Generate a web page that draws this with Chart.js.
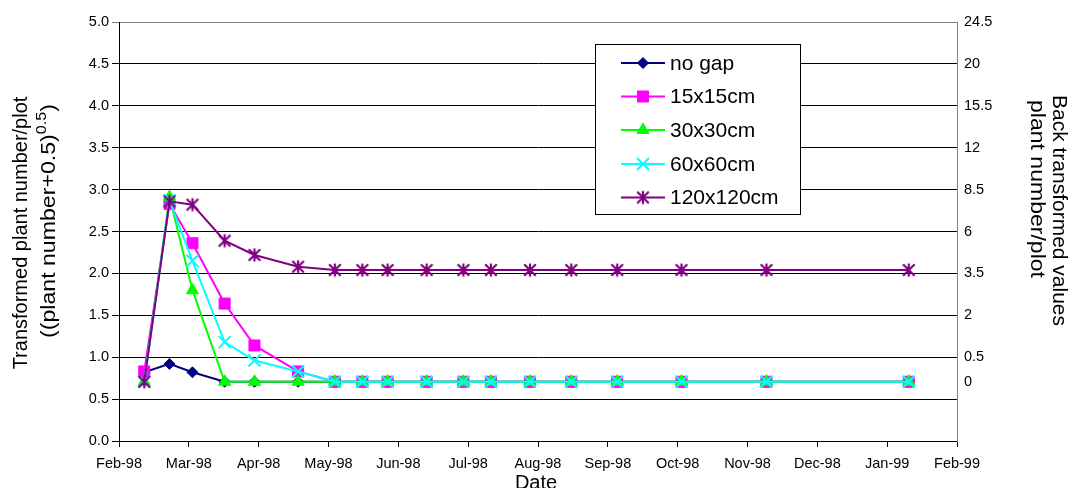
<!DOCTYPE html>
<html><head><meta charset="utf-8">
<script src="https://cdn.jsdelivr.net/npm/chart.js@4/dist/chart.umd.min.js"></script>
<style>html,body{margin:0;padding:0;background:#fff;overflow:hidden}</style>
</head><body>
<canvas id="c" width="1072" height="488"></canvas>
<script>
// ---- data ----
const dates = ['1998-02-12','1998-02-23','1998-03-05','1998-03-19','1998-04-01','1998-04-20','1998-05-06','1998-05-18','1998-05-29','1998-06-15','1998-07-01','1998-07-13','1998-07-30','1998-08-17','1998-09-06','1998-10-04','1998-11-10','1999-01-11'];
const seriesNames = ['no gap','15x15cm','30x30cm','60x60cm','120x120cm'];
const noGap  = [0.82,0.92,0.82,0.707,0.707,0.707,0.707,0.707,0.707,0.707,0.707,0.707,0.707,0.707,0.707,0.707,0.707,0.707];
const gap15  = [0.83,2.83,2.36,1.64,1.14,0.83,0.707,0.707,0.707,0.707,0.707,0.707,0.707,0.707,0.707,0.707,0.707,0.707];
const gap30  = [0.707,2.91,1.80,0.707,0.707,0.707,0.707,0.707,0.707,0.707,0.707,0.707,0.707,0.707,0.707,0.707,0.707,0.707];
const gap60  = [0.707,2.87,2.15,1.18,0.96,0.83,0.707,0.707,0.707,0.707,0.707,0.707,0.707,0.707,0.707,0.707,0.707,0.707];
const gap120 = [0.707,2.86,2.82,2.39,2.22,2.08,2.04,2.04,2.04,2.04,2.04,2.04,2.04,2.04,2.04,2.04,2.04,2.04];
const monthLabels = ['Feb-98','Mar-98','Apr-98','May-98','Jun-98','Jul-98','Aug-98','Sep-98','Oct-98','Nov-98','Dec-98','Jan-99','Feb-99'];
const leftTicks = [0,0.5,1,1.5,2,2.5,3,3.5,4,4.5,5];
const rightTickLabels = ['0','0.5','2','3.5','6','8.5','12','15.5','20','24.5'];
const rightTickPos = [0.707,1,1.5,2,2.5,3,3.5,4,4.5,5];

// ---- helpers ----
const startDay = Date.UTC(1998,1,1);
const dayOf = s => { const p = s.split('-').map(Number); return (Date.UTC(p[0],p[1]-1,p[2]) - startDay) / 864e5; };
const axisDays = (Date.UTC(1999,1,1) - startDay) / 864e5;
const xDays = dates.map(dayOf);
const pts = arr => arr.map((v,i) => ({x: xDays[i], y: v}));

function makeStar(color){
  const c = document.createElement('canvas'); c.width = 16; c.height = 16;
  const g = c.getContext('2d'); g.strokeStyle = color; g.lineWidth = 2.2; g.lineCap = 'butt';
  g.beginPath();
  g.moveTo(8,1.5); g.lineTo(8,14.5);
  g.moveTo(2.2,2.2); g.lineTo(13.8,13.8);
  g.moveTo(13.8,2.2); g.lineTo(2.2,13.8);
  g.stroke();
  return c;
}

const FONT = '"Liberation Sans", Arial, Helvetica, sans-serif';
Chart.defaults.font.family = FONT;
Chart.defaults.color = '#000';

const styles = [
  {color:'#000080', pointStyle:'rectRot', radius:5.5, pbw:1, order:4},
  {color:'#FF00FF', pointStyle:'rect', radius:7.8, pbw:1, order:3},
  {color:'#00FF00', pointStyle:'triangle', radius:7, pbw:1, order:2},
  {color:'#00FFFF', pointStyle:'crossRot', radius:8.5, pbw:2, order:1},
  {color:'#800080', pointStyle:makeStar('#800080'), radius:8, pbw:2, order:0}
];
const seriesData = [noGap, gap15, gap30, gap60, gap120];

const datasets = seriesData.map((arr,i) => ({
  label: seriesNames[i],
  data: pts(arr),
  borderColor: styles[i].color,
  backgroundColor: styles[i].color,
  pointBackgroundColor: styles[i].color,
  pointBorderColor: styles[i].color,
  pointStyle: styles[i].pointStyle,
  pointRadius: styles[i].radius,
  pointHoverRadius: styles[i].radius,
  pointBorderWidth: styles[i].pbw,
  borderWidth: 2,
  tension: 0,
  fill: false,
  order: styles[i].order,
  yAxisID: 'y'
}));

// draws rotated text made of runs [{text,size,dy}] starting at (x,y), stretched along its direction to a target length
function drawRuns(ctx, x, y, angle, runs, targetLen){
  ctx.save();
  ctx.translate(x, y);
  ctx.rotate(angle);
  ctx.textAlign = 'left'; ctx.textBaseline = 'alphabetic';
  let total = 0;
  runs.forEach(r => { ctx.font = r.size + 'px ' + FONT; r.w = ctx.measureText(r.text).width; total += r.w; });
  const sx = targetLen ? targetLen / total : 1;
  ctx.scale(sx, 1);
  let pos = 0;
  runs.forEach(r => { ctx.font = r.size + 'px ' + FONT; ctx.fillText(r.text, pos, r.dy || 0); pos += r.w; });
  ctx.restore();
}

const titlesAndLegend = {
  id: 'titlesAndLegend',
  afterDraw(chart){
    const ctx = chart.ctx;
    ctx.save();
    ctx.fillStyle = '#000';
    // left title
    ctx.save();
    ctx.translate(27, 233);
    ctx.rotate(-Math.PI/2);
    ctx.font = '20px ' + FONT;
    ctx.textAlign = 'center'; ctx.textBaseline = 'alphabetic';
    ctx.fillText('Transformed plant number/plot', 0, 0);
    ctx.restore();
    // left title line 2 with superscript
    drawRuns(ctx, 55, 338, -Math.PI/2, [
      {text:'((plant number+0.5)', size:20},
      {text:'0.5', size:14, dy:-9},
      {text:')', size:20}
    ], 234);
    // right title
    drawRuns(ctx, 1053, 95, Math.PI/2, [{text:'Back transformed values', size:21}], 231);
    drawRuns(ctx, 1031, 100, Math.PI/2, [{text:'plant number/plot', size:20.5}], 178);
    // x title
    ctx.font = '20px ' + FONT;
    ctx.textAlign = 'center'; ctx.textBaseline = 'alphabetic';
    ctx.fillText('Date', 536, 489);
    // legend box
    const bx = 595.5, by = 44.5, bw = 205, bh = 170;
    ctx.fillStyle = '#fff';
    ctx.fillRect(bx, by, bw, bh);
    ctx.strokeStyle = '#000'; ctx.lineWidth = 1;
    ctx.strokeRect(bx, by, bw, bh);
    const rowY = [63, 96.5, 130, 164, 197.5];
    chart.data.datasets.forEach((ds, i) => {
      const y = rowY[i];
      ctx.strokeStyle = ds.borderColor; ctx.lineWidth = 2;
      ctx.beginPath(); ctx.moveTo(621, y); ctx.lineTo(665, y); ctx.stroke();
      ctx.fillStyle = ds.pointBackgroundColor; ctx.strokeStyle = ds.pointBorderColor;
      ctx.lineWidth = ds.pointBorderWidth;
      Chart.helpers.drawPoint(ctx, {pointStyle: ds.pointStyle, radius: ds.pointRadius, rotation: 0, borderWidth: ds.pointBorderWidth}, 643, y);
      ctx.fillStyle = '#000';
      ctx.font = '21px ' + FONT;
      ctx.textAlign = 'left'; ctx.textBaseline = 'middle';
      ctx.fillText(ds.label, 670, y + 1);
    });
    ctx.restore();
  }
};

new Chart(document.getElementById('c'), {
  type: 'line',
  data: { datasets },
  options: {
    responsive: false,
    animation: false,
    devicePixelRatio: 1,
    layout: { padding: { top: 22, left: 0, right: 0, bottom: 0 } },
    plugins: { legend: { display: false }, tooltip: { enabled: false } },
    scales: {
      x: {
        type: 'linear', position: 'bottom', min: 0, max: axisDays,
        afterBuildTicks: s => { s.ticks = monthLabels.map((l,i) => ({value: i * axisDays / 12})); },
        afterFit: s => { s.height = 47; },
        ticks: { autoSkip: false, maxRotation: 0, padding: 8, font: { size: 14.5 }, callback: (v, i) => monthLabels[i] },
        grid: { drawOnChartArea: false, drawTicks: true, tickLength: 6, color: '#000' },
        border: { display: true, color: '#000', width: 1 }
      },
      y: {
        type: 'linear', position: 'left', min: 0, max: 5,
        afterBuildTicks: s => { s.ticks = leftTicks.map(v => ({value: v})); },
        afterFit: s => { s.width = 119; },
        ticks: { autoSkip: false, padding: 3, font: { size: 14.5 }, callback: v => Number(v).toFixed(1) },
        grid: { color: ctx => (ctx.tick && ctx.tick.value === 5) ? '#808080' : '#000', tickLength: 7, drawTicks: true },
        border: { display: true, color: '#000', width: 1 }
      },
      y2: {
        type: 'linear', position: 'right', min: 0, max: 5,
        afterBuildTicks: s => { s.ticks = rightTickPos.map(v => ({value: v})); },
        afterFit: s => { s.width = 115; },
        ticks: { autoSkip: false, padding: 7, font: { size: 14.5 }, callback: (v, i) => rightTickLabels[i] },
        grid: { display: false, drawTicks: false, drawOnChartArea: false },
        border: { display: true, color: '#808080', width: 1 }
      }
    }
  },
  plugins: [titlesAndLegend]
});
</script>
</body></html>
